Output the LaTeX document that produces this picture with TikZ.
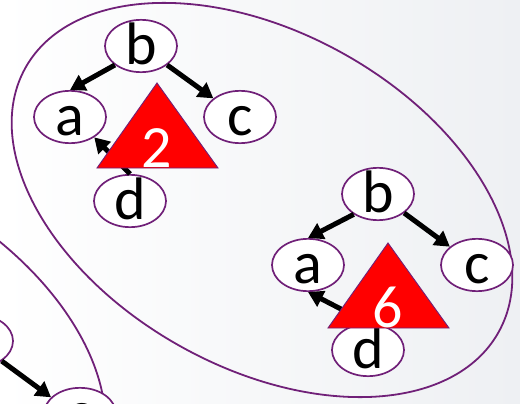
\documentclass[tikz,border=0pt]{standalone}
\usepackage{fontspec}
\setmainfont{Carlito}
\usetikzlibrary{shapes.geometric,arrows.meta}
\definecolor{grp}{RGB}{112,32,120}
\definecolor{bgr}{RGB}{238,240,243}
\begin{document}
\begin{tikzpicture}[x=1pt,y=-1pt,
  key/.style={draw=grp, line width=1.7pt, ellipse, fill=white, minimum width=72pt, minimum height=52pt, inner sep=0pt,
    font=\fontsize{60}{60}\selectfont, text height=37pt, text depth=0pt},
  grpline/.style={draw=grp, line width=1.8pt},
  edge/.style={line width=5pt, -{Triangle[length=15pt,width=17pt]}},
  tri/.style={fill=red, draw=grp, line width=0.9pt},
  num/.style={text=white, anchor=base, inner sep=0pt, font=\fontsize{60}{60}\selectfont}]
\useasboundingbox (0,0) rectangle (520,404);
\clip (0,0) rectangle (520,404);
\fill[left color=white, right color=bgr] (0,0) rectangle (520,404);
% groups
\draw[grpline, rotate around={-29.2:(262,200)}] (262,200) ellipse [x radius=271, y radius=167.5];
\draw[grpline, rotate around={-29.2:(-145,345)}] (-145,345) ellipse [x radius=271, y radius=167.5];
% first tree
\node[key] (b1) at (141,46) {b};
\node[key] (a1) at (70,117) {a};
\node[key] (c1) at (240,117) {c};
\node[key] (d1) at (130,201) {d};
\draw[edge] (b1.216) -- (a1.north);
\draw[edge] (b1.324) -- (c1.145);
\draw[edge] (d1.north) -- (a1.320);
\coordinate (t1) at (157,83);
\coordinate (l1) at (97,168);
\coordinate (r1) at (218,168);
\draw[tri] (t1) -- (l1) -- (r1) -- cycle;
\node[num] (n1) at (157,167) {2};
% second tree
\node[key] (b2) at (378,194) {b};
\node[key] (a2) at (308,265) {a};
\node[key] (c2) at (477,265) {c};
\node[key] (d2) at (368,350) {d};
\draw[edge] (b2.220) -- (a2.north);
\draw[edge] (b2.324) -- (c2.146);
\draw[edge] (d2.north) -- (a2.south);
\coordinate (t2) at (388,243);
\coordinate (l2) at (328,328);
\coordinate (r2) at (449,328);
\draw[tri] (t2) -- (l2) -- (r2) -- cycle;
\node[num] (n2) at (388,327) {6};
% third tree, cut off
\node[key] (b3) at (-23,341) {b};
\node[key] (c3) at (80,414) {c};
\draw[edge] (b3.321) -- (c3.150);
\end{tikzpicture}
\end{document}
